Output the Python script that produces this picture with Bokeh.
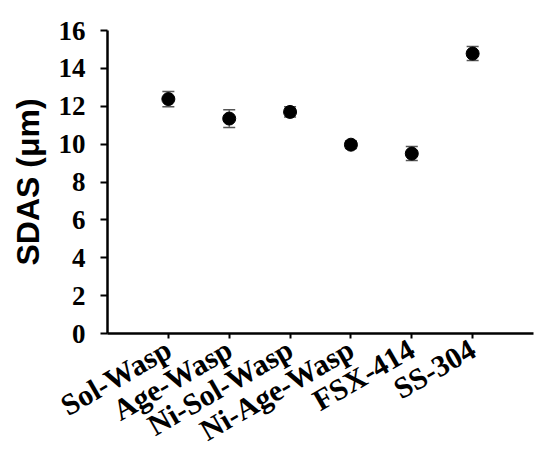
import math
from bokeh.plotting import figure
from bokeh.models import ColumnDataSource, Whisker, FactorRange, Range1d, FixedTicker
from bokeh.embed import file_html
from bokeh.resources import INLINE

categories = ["Sol-Wasp", "Age-Wasp", "Ni-Sol-Wasp", "Ni-Age-Wasp", "FSX-414", "SS-304"]
sdas = [12.38, 11.35, 11.70, 9.97, 9.50, 14.78]
err = [0.40, 0.47, 0.27, 0.20, 0.37, 0.37]
y_ticks = [0, 2, 4, 6, 8, 10, 12, 14, 16]

src = ColumnDataSource(dict(
    x=categories,
    y=sdas,
    upper=[v + e for v, e in zip(sdas, err)],
    lower=[v - e for v, e in zip(sdas, err)],
))

p = figure(width=550, height=466, output_backend="svg", toolbar_location=None,
           x_range=FactorRange(*categories, range_padding=0.5, range_padding_units="absolute"),
           y_range=Range1d(0, 16),
           min_border_left=107, min_border_right=17, min_border_top=30, min_border_bottom=133)

p.outline_line_color = None
p.xgrid.grid_line_color = None
p.ygrid.grid_line_color = None
p.background_fill_color = "white"

w = Whisker(source=src, base="x", upper="upper", lower="lower",
            line_color="#555555", line_width=1.2)
w.upper_head.size = 12
w.lower_head.size = 12
w.upper_head.line_color = "#555555"
w.lower_head.line_color = "#555555"
w.upper_head.line_width = 1.5
w.lower_head.line_width = 1.5
p.add_layout(w)

p.scatter("x", "y", source=src, size=13, color="black")

serif = "Liberation Serif"
for ax in (p.xaxis[0], p.yaxis[0]):
    ax.axis_line_width = 2.5
    ax.axis_line_color = "black"
    ax.major_tick_line_width = 2
    ax.major_tick_line_color = "black"
    ax.minor_tick_line_color = None
    ax.major_label_text_font = serif
    ax.major_label_text_font_style = "bold"
    ax.major_label_text_color = "black"

p.yaxis.major_label_text_font_size = "27px"
p.xaxis.major_label_text_font_size = "30px"

p.yaxis.ticker = FixedTicker(ticks=y_ticks)
p.yaxis.major_tick_out = 7
p.yaxis.major_tick_in = 0
p.yaxis.major_label_standoff = 15
p.yaxis.axis_label = "SDAS (μm)"
p.yaxis.axis_label_text_font = "Liberation Sans"
p.yaxis.axis_label_text_font_style = "bold"
p.yaxis.axis_label_text_font_size = "32px"
p.yaxis.axis_label_text_color = "black"
p.yaxis.axis_label_standoff = 10

p.xaxis.major_tick_out = 5
p.xaxis.major_tick_in = 0
p.xaxis.major_label_orientation = math.pi / 6
p.xaxis.major_label_standoff = 8

open("out.html", "w").write(file_html(p, INLINE))
